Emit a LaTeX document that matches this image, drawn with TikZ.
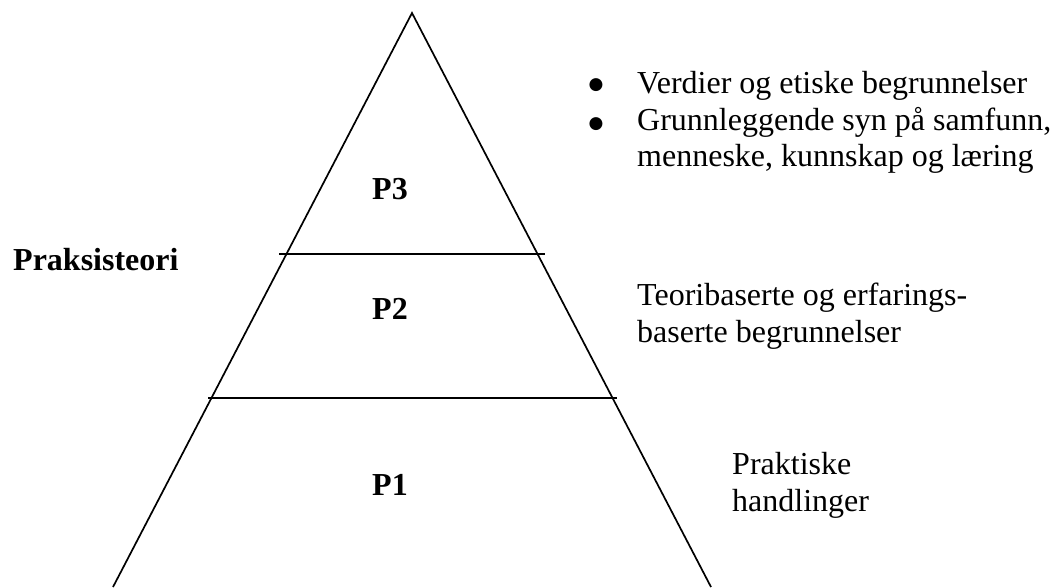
\documentclass[tikz,border=0pt]{standalone}
\usepackage{fontspec}
\setmainfont{Liberation Serif}
\newfontfamily\symfont{DejaVu Sans}
\begin{document}
\begin{tikzpicture}[x=1pt,y=-1pt,
  txt/.style={anchor=base west,inner sep=0pt,font=\fontsize{32}{37}\selectfont},
  lbl/.style={anchor=base,inner sep=0pt,font=\fontsize{32}{37}\selectfont\bfseries},
  bul/.style={anchor=base,inner sep=0pt,font=\symfont\fontsize{17}{19}\selectfont},
  edge/.style={line width=1.7pt,black}]
\useasboundingbox (0,0) rectangle (1052,587);
% pyramid
\coordinate (apex) at (412,13);
\coordinate (bl) at (113,587);
\coordinate (br) at (711,587);
\draw[edge,line join=miter] (bl) -- (apex) -- (br);
\coordinate (l1a) at (279,254);
\coordinate (l1b) at (545,254);
\coordinate (l2a) at (208,398);
\coordinate (l2b) at (617,398);
\draw[edge] (l1a) -- (l1b);
\draw[edge] (l2a) -- (l2b);
% level labels
\node[lbl] (p3) at (390,199) {P3};
\node[lbl] (p2) at (390,319) {P2};
\node[lbl] (p1) at (390,495) {P1};
\node[txt,font=\fontsize{32}{37}\selectfont\bfseries] (prax) at (13,270) {Praksisteori};
% right texts
\node[bul] (b1) at (596,89) {●};
\node[bul] (b2) at (596,128) {●};
\node[txt] (t1) at (637,93) {Verdier og etiske begrunnelser};
\node[txt] (t2) at (637,130) {Grunnleggende syn på samfunn,};
\node[txt] (t3) at (637,166) {menneske, kunnskap og læring};
\node[txt] (t4) at (637,305) {Teoribaserte og erfarings-};
\node[txt] (t5) at (637,342) {baserte begrunnelser};
\node[txt] (t6) at (732,474) {Praktiske};
\node[txt] (t7) at (732,511) {handlinger};
\end{tikzpicture}
\end{document}
